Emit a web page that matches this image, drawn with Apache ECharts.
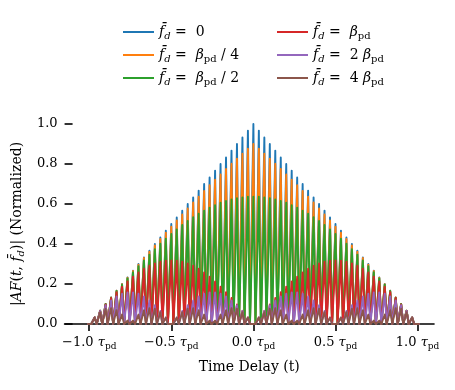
<!DOCTYPE html>
<html><head><meta charset="utf-8">
<script src="https://cdn.jsdelivr.net/npm/echarts@6/dist/echarts.min.js"></script>
<style>html,body{margin:0;padding:0;background:#fff}#c{width:455px;height:390px}</style>
</head><body><div id="c"></div>
<script>
// Time delay positions of the lobe peaks (units of tau_pd)
const timeDelay = [-1, -0.9667, -0.9333, -0.9, -0.8667, -0.8333, -0.8, -0.7667, -0.7333, -0.7, -0.6667, -0.6333, -0.6, -0.5667, -0.5333, -0.5, -0.4667, -0.4333, -0.4, -0.3667, -0.3333, -0.3, -0.2667, -0.2333, -0.2, -0.1667, -0.1333, -0.1, -0.0667, -0.0333, 0,
  0.0333, 0.0667, 0.1, 0.1333, 0.1667, 0.2, 0.2333, 0.2667, 0.3, 0.3333, 0.3667, 0.4, 0.4333, 0.4667, 0.5, 0.5333, 0.5667, 0.6, 0.6333, 0.6667, 0.7, 0.7333, 0.7667, 0.8, 0.8333, 0.8667, 0.9, 0.9333, 0.9667, 1];

// Lobe peak heights (normalized |AF|)
const peaksFd0 = [0, .033, .067, .100, .133, .167, .200, .233, .267, .300, .333, .367, .400, .433, .467, .500, .533, .567, .600, .633, .667, .700, .733, .767, .800, .833, .867, .900, .933, .967, 1.000,
  .967, .933, .900, .867, .833, .800, .767, .733, .700, .667, .633, .600, .567, .533, .500, .467, .433, .400, .367, .333, .300, .267, .233, .200, .167, .133, .100, .067, .033, 0];
const peaksFdQuarter = [0, .033, .067, .100, .133, .166, .199, .232, .265, .297, .330, .362, .393, .425, .456, .487, .518, .548, .578, .608, .637, .665, .694, .721, .748, .775, .801, .827, .852, .876, .900,
  .876, .852, .827, .801, .775, .748, .721, .694, .665, .637, .608, .578, .548, .518, .487, .456, .425, .393, .362, .330, .297, .265, .232, .199, .166, .133, .100, .067, .033, 0];
const peaksFdHalf = [0, .033, .067, .100, .132, .165, .197, .228, .259, .289, .318, .347, .374, .401, .426, .450, .473, .495, .515, .534, .551, .567, .582, .594, .606, .615, .623, .629, .633, .636, .637,
  .636, .633, .629, .623, .615, .606, .594, .582, .567, .551, .534, .515, .495, .473, .450, .426, .401, .374, .347, .318, .289, .259, .228, .197, .165, .132, .100, .067, .033, 0];
const peaksFd1 = [0, .033, .066, .098, .130, .159, .187, .213, .237, .258, .276, .291, .303, .311, .317, .318, .317, .311, .303, .291, .276, .258, .237, .213, .187, .159, .130, .098, .066, .033, 0,
  .033, .066, .098, .130, .159, .187, .213, .237, .258, .276, .291, .303, .311, .317, .318, .317, .311, .303, .291, .276, .258, .237, .213, .187, .159, .130, .098, .066, .033, 0];
const peaksFd2 = [0, .033, .065, .094, .118, .138, .151, .158, .158, .151, .138, .118, .094, .065, .033, 0, .033, .065, .094, .118, .138, .151, .158, .158, .151, .138, .118, .094, .065, .033, 0,
  .033, .065, .094, .118, .138, .151, .158, .158, .151, .138, .118, .094, .065, .033, 0, .033, .065, .094, .118, .138, .151, .158, .158, .151, .138, .118, .094, .065, .033, 0];
const peaksFd4 = [0, .032, .059, .076, .079, .069, .047, .017, .017, .047, .069, .079, .076, .059, .032, 0, .032, .059, .076, .079, .069, .047, .017, .017, .047, .069, .079, .076, .059, .032, 0,
  .032, .059, .076, .079, .069, .047, .017, .017, .047, .069, .079, .076, .059, .032, 0, .032, .059, .076, .079, .069, .047, .017, .017, .047, .069, .079, .076, .059, .032, 0];
const troughLevel = 0;

const xTickValues = [-1, -0.5, 0, 0.5, 1];

const seriesNames = ['fd0', 'fdQuarter', 'fdHalf', 'fd1', 'fd2', 'fd4'];
const seriesPeaks = [peaksFd0, peaksFdQuarter, peaksFdHalf, peaksFd1, peaksFd2, peaksFd4];
const legendLabels = {
  fd0: '{i|f\u0304}{si|d}{n| =  0}',
  fdQuarter: '{i|f\u0304}{si|d}{n| =  }{i|β}{s|pd}{n| / 4}',
  fdHalf: '{i|f\u0304}{si|d}{n| =  }{i|β}{s|pd}{n| / 2}',
  fd1: '{i|f\u0304}{si|d}{n| =  }{i|β}{s|pd}',
  fd2: '{i|f\u0304}{si|d}{n| =  2 }{i|β}{s|pd}',
  fd4: '{i|f\u0304}{si|d}{n| =  4 }{i|β}{s|pd}'
};
const colors = ['#1f77b4', '#ff7f0e', '#2ca02c', '#d62728', '#9467bd', '#8c564b'];

const FONT = 'DejaVu Serif';
function rich(size) {
  const sub = Math.round(size * 0.7);
  return {
    n: {fontFamily: FONT, fontSize: size, color: '#000', lineHeight: size + 3},
    i: {fontFamily: FONT, fontSize: size, fontStyle: 'italic', color: '#000', lineHeight: size + 3},
    s: {fontFamily: FONT, fontSize: sub, color: '#000', lineHeight: sub + 1, padding: [8, 0, 0, 0]},
    si: {fontFamily: FONT, fontSize: sub, fontStyle: 'italic', color: '#000', lineHeight: sub + 1, padding: [8, 0, 0, 0]}
  };
}

const lobeHalf = 0.0125;
function buildLine(peaks) {
  const pts = [];
  for (let k = 0; k < timeDelay.length; k++) {
    const t = timeDelay[k];
    pts.push([t - lobeHalf, troughLevel]);
    pts.push([t, peaks[k]]);
    pts.push([t + lobeHalf, troughLevel]);
  }
  return pts;
}

const chart = echarts.init(document.getElementById('c'), null, {renderer: 'canvas'});
const legendCommon = {
  orient: 'vertical', icon: 'rect', itemWidth: 31, itemHeight: 2, itemGap: 5, itemTextGap: 9,
  formatter: name => legendLabels[name],
  textStyle: {rich: rich(14)}, selectedMode: false
};
chart.setOption({
  animation: false,
  color: colors,
  legend: [
    Object.assign({left: 118, top: 18, data: seriesNames.slice(0, 3)}, legendCommon),
    Object.assign({left: 272, top: 18, data: seriesNames.slice(3)}, legendCommon)
  ],
  grid: {left: 64, right: 21, top: 124, bottom: 66},
  xAxis: {
    type: 'value', min: -1.15, max: 1.1,
    splitLine: {show: false},
    axisLine: {show: true, lineStyle: {color: '#000', width: 1.6}},
    axisTick: {show: true, customValues: xTickValues, length: 7, lineStyle: {color: '#000', width: 1.6}},
    axisLabel: {
      customValues: xTickValues, margin: 11,
      formatter: v => `{n|${v < 0 ? '\u2212' : ''}${Math.abs(v).toFixed(1)} }{i|τ}{s|pd}`,
      rich: rich(13)
    },
    name: '{n|Time Delay (t)}', nameLocation: 'middle', nameGap: 35,
    nameTextStyle: {rich: rich(14)}
  },
  yAxis: {
    type: 'value', min: 0, max: 1.0, interval: 0.2,
    splitLine: {show: false},
    axisLine: {show: false, onZero: false},
    axisTick: {show: true, inside: true, length: 8, lineStyle: {color: '#000', width: 1.6}},
    axisLabel: {margin: 7, formatter: v => v.toFixed(1), fontFamily: FONT, fontSize: 13, color: '#000'},
    name: '{n||}{i|AF}{n|(}{i|t}{n|, }{i|f\u0304}{si|d}{n|)| (Normalized)}',
    nameLocation: 'middle', nameGap: 34,
    nameTextStyle: {rich: rich(14)}
  },
  series: seriesNames.map((nm, idx) => ({
    name: nm, type: 'line', data: buildLine(seriesPeaks[idx]),
    showSymbol: false, symbol: 'none', clip: false, silent: true,
    lineStyle: {width: 1.9, color: colors[idx], join: 'round'}, itemStyle: {color: colors[idx]}
  }))
});
</script></body></html>
